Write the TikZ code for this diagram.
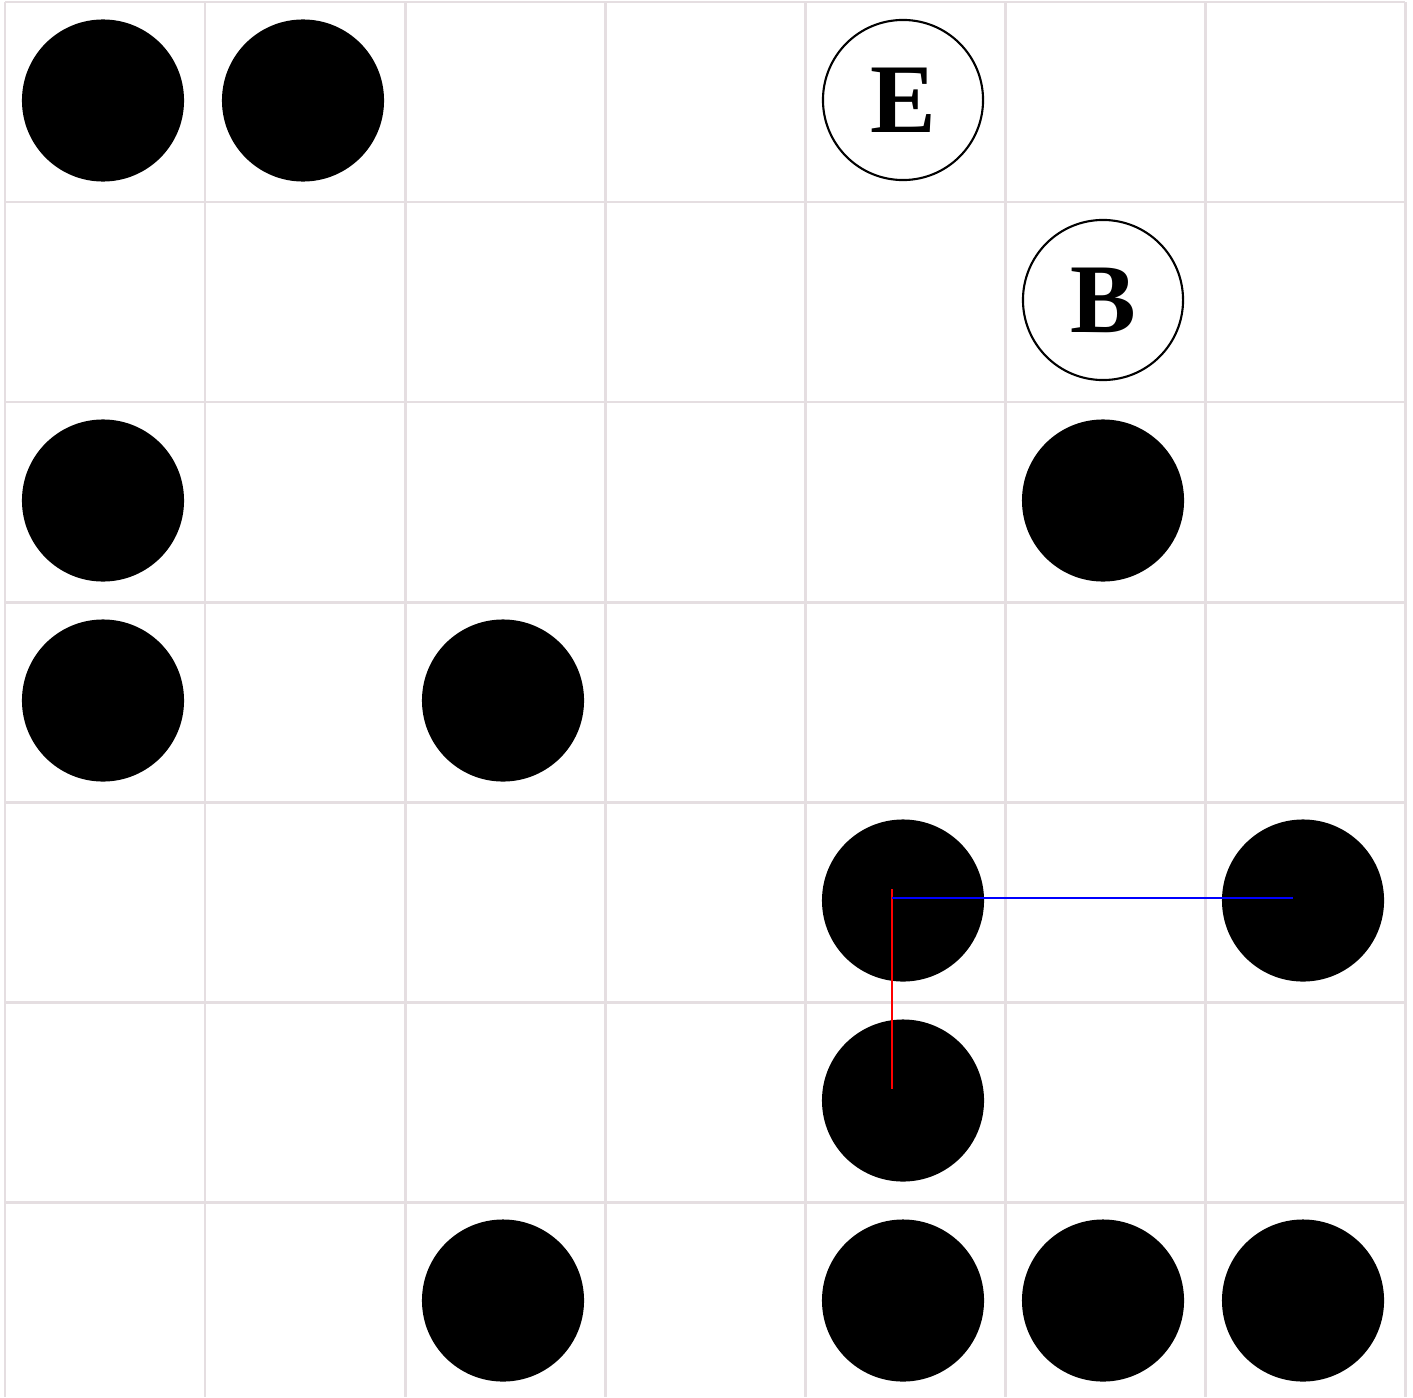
\documentclass[tikz,border=0pt]{standalone}
\usepackage{fontspec}
\setmainfont{Liberation Serif}
\definecolor{gridc}{RGB}{229,222,225}
\begin{document}
\begin{tikzpicture}[x=0.01cm,y=-0.01cm,
  stone/.style={circle,fill=black,minimum size=1.62cm,inner sep=0pt},
  marked/.style={circle,draw=black,line width=0.6pt,fill=white,minimum size=1.6cm,inner sep=0pt,font=\fontsize{28}{30}\selectfont\bfseries},
  gridline/.style={draw=gridc,line width=0.85pt},
  linkline/.style={line width=0.7pt}]
\useasboundingbox (0,0) rectangle (1413,1397);
\foreach \k in {0,...,7} \draw[gridline] (5+200*\k,2) -- (5+200*\k,1397);
\foreach \k in {0,...,6} \draw[gridline] (5,2+200*\k) -- (1405,2+200*\k);
% stones (row r, column c): centre (103+200c, 100.5+200r)
\node[stone] (s00) at (103,100.5) {};
\node[stone] (s01) at (303,100.5) {};
\node[stone] (s20) at (103,500.5) {};
\node[stone] (s25) at (1103,500.5) {};
\node[stone] (s30) at (103,700.5) {};
\node[stone] (s32) at (503,700.5) {};
\node[stone] (s44) at (903,900.5) {};
\node[stone] (s46) at (1303,900.5) {};
\node[stone] (s54) at (903,1100.5) {};
\node[stone] (s62) at (503,1300.5) {};
\node[stone] (s64) at (903,1300.5) {};
\node[stone] (s65) at (1103,1300.5) {};
\node[stone] (s66) at (1303,1300.5) {};
% marked points
\node[marked] (pe) at (903,100) {E};
\node[marked] (pb) at (1103,300) {B};
% connectors
\draw[linkline,red] ([shift={(-11,-11.5)}]s44.center) -- ([shift={(-11,-11.5)}]s54.center);
\draw[linkline,blue] ([shift={(-11,-2.5)}]s44.center) -- ([shift={(-10,-2.5)}]s46.center);
\end{tikzpicture}
\end{document}
